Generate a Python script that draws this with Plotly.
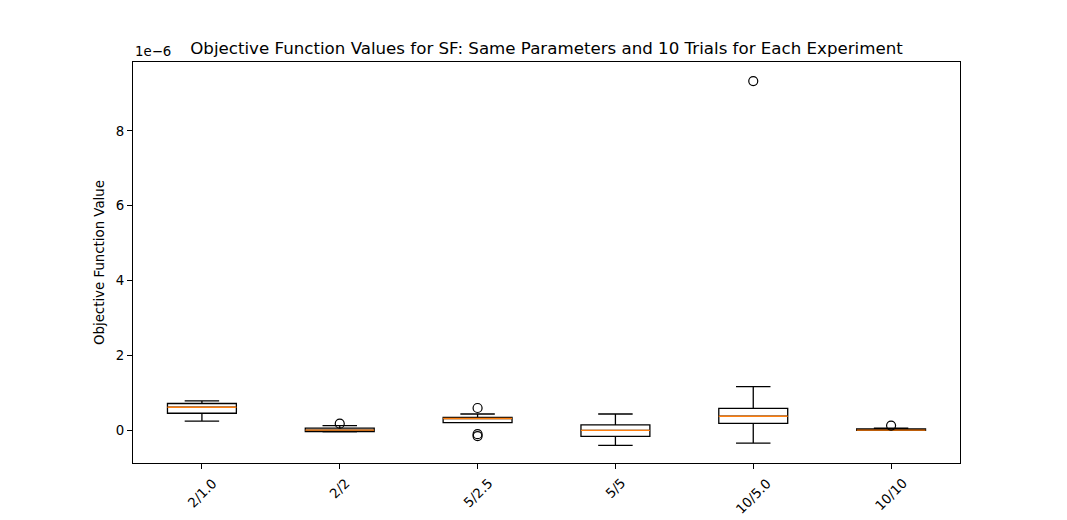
import plotly.graph_objects as go

# values in units of 1e-6
experiments = ["2/1.0", "2/2", "5/2.5", "5/5", "10/5.0", "10/10"]
positions = [1, 2, 3, 4, 5, 6]
q1 = [0.45, -0.04, 0.20, -0.17, 0.18, -0.01]
median = [0.61, 0.00, 0.31, -0.01, 0.37, 0.00]
q3 = [0.71, 0.05, 0.34, 0.14, 0.58, 0.03]
lower_whisker = [0.24, -0.05, 0.20, -0.41, -0.35, -0.01]
upper_whisker = [0.78, 0.12, 0.43, 0.43, 1.16, 0.05]
outlier_x = [2, 3, 3, 3, 5, 6]
outlier_y = [0.17, 0.59, -0.11, -0.16, 9.33, 0.12]

box_width = 0.5

fig = go.Figure()

fig.add_trace(go.Box(
    x=positions,
    q1=q1,
    median=median,
    q3=q3,
    lowerfence=lower_whisker,
    upperfence=upper_whisker,
    width=box_width,
    whiskerwidth=0.5,
    fillcolor="rgba(0,0,0,0)",
    line=dict(color="black", width=1.3),
    boxpoints=False,
    hoverinfo="skip",
    showlegend=False,
))

# orange median lines drawn over the boxes
mx, my = [], []
for p, m in zip(positions, median):
    mx += [p - box_width / 2, p + box_width / 2, None]
    my += [m, m, None]
fig.add_trace(go.Scatter(
    x=mx, y=my, mode="lines",
    line=dict(color="#ff7f0e", width=1.3),
    showlegend=False, hoverinfo="skip",
))

fig.add_trace(go.Scatter(
    x=outlier_x, y=outlier_y, mode="markers",
    marker=dict(symbol="circle-open", size=9, color="black", line=dict(width=1.2)),
    showlegend=False,
))

# rotated category labels centred under each tick (matplotlib style)
annotations = [dict(
    text="1e\u22126", xref="paper", yref="paper", x=0, y=1,
    xanchor="left", yanchor="bottom", showarrow=False, yshift=1,
    font=dict(size=13.33),
)]
for p, name in zip(positions, experiments):
    annotations.append(dict(
        text=name, x=p, xref="x", y=0, yref="paper",
        xanchor="center", yanchor="top", textangle=-45,
        showarrow=False, yshift=-10, font=dict(size=13.33),
    ))

# the page body adds an 8px offset, so the figure is a bit smaller than the window
fig.update_layout(
    width=1059,
    height=512,
    margin=dict(l=125, r=107, t=54, b=57, autoexpand=False),
    paper_bgcolor="white",
    plot_bgcolor="white",
    font=dict(family="DejaVu Sans", size=13.33, color="black"),
    title=dict(
        text="Objective Function Values for SF: Same Parameters and 10 Trials for Each Experiment",
        x=0.5085, xanchor="center", y=0.922, yanchor="middle",
        font=dict(size=16.67),
    ),
    xaxis=dict(
        range=[0.5, 6.5],
        tickmode="array",
        tickvals=positions,
        showticklabels=False,
        ticks="outside",
        ticklen=5,
        tickcolor="black",
        showgrid=False,
        zeroline=False,
        showline=True,
        linecolor="black",
        mirror=True,
        automargin=False,
    ),
    yaxis=dict(
        range=[-0.88, 9.84],
        tickvals=[0, 2, 4, 6, 8],
        tickfont=dict(size=13.33),
        ticks="outside",
        ticklen=5,
        tickcolor="black",
        showgrid=False,
        zeroline=False,
        showline=True,
        linecolor="black",
        mirror=True,
        automargin=False,
        title=dict(text="Objective Function Value", standoff=8, font=dict(size=13.33)),
    ),
    annotations=annotations,
)

fig.write_html("out.html")
